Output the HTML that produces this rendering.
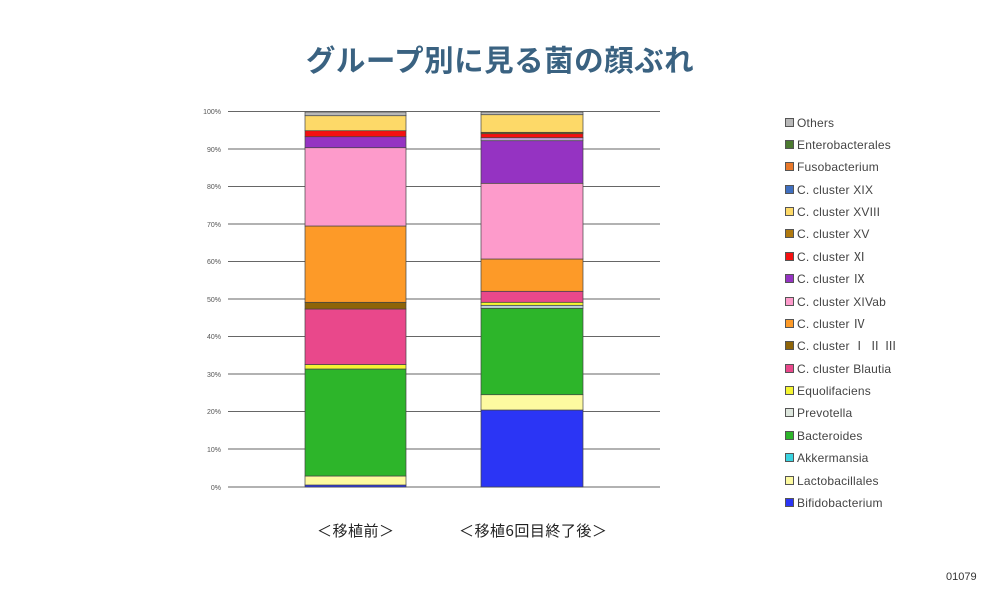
<!DOCTYPE html>
<html><head><meta charset="utf-8"><style>
body{margin:0;width:1000px;height:600px;background:#fff;position:relative;overflow:hidden;font-family:"Liberation Sans","Noto Sans CJK JP",sans-serif}
.t{position:absolute;left:0;width:1000px;top:38px;text-align:center;font-size:29.5px;font-weight:bold;color:#3a6281;font-family:"Noto Sans CJK JP",sans-serif;letter-spacing:0.5px}
.lg{position:absolute;left:785px;font-size:12px;color:#444;line-height:14px;letter-spacing:0.2px}
.lg i{display:inline-block;width:7px;height:7px;border:1px solid #555;margin-right:3px;vertical-align:0px}
.xl{position:absolute;top:520px;font-size:15px;color:#222;font-family:"Noto Sans CJK JP",sans-serif;letter-spacing:0.5px}
</style></head><body>
<div class="t">グループ別に見る菌の顔ぶれ</div>
<svg width="1000" height="600" style="position:absolute;left:0;top:0">
<g stroke="#666" stroke-width="1">
<line x1="228" x2="660" y1="111.5" y2="111.5"/><line x1="228" x2="660" y1="149" y2="149"/><line x1="228" x2="660" y1="186.5" y2="186.5"/><line x1="228" x2="660" y1="224" y2="224"/><line x1="228" x2="660" y1="261.5" y2="261.5"/><line x1="228" x2="660" y1="299" y2="299"/><line x1="228" x2="660" y1="336.5" y2="336.5"/><line x1="228" x2="660" y1="374" y2="374"/><line x1="228" x2="660" y1="411.5" y2="411.5"/><line x1="228" x2="660" y1="449" y2="449"/><line x1="228" x2="660" y1="487" y2="487"/>
</g>
<g font-size="7" fill="#555" text-anchor="end" font-family="Liberation Sans">
<text x="221" y="114">100%</text><text x="221" y="152">90%</text><text x="221" y="189">80%</text><text x="221" y="227">70%</text><text x="221" y="264">60%</text><text x="221" y="302">50%</text><text x="221" y="339">40%</text><text x="221" y="377">30%</text><text x="221" y="414">20%</text><text x="221" y="452">10%</text><text x="221" y="490">0%</text>
</g>
<g stroke="#444" stroke-width="0.7">
<rect x="305" y="485" width="101" height="2" fill="#2b35f5"/>
<rect x="305" y="476" width="101" height="9" fill="#fdfaa0"/>
<rect x="305" y="369" width="101" height="107" fill="#2db52a"/>
<rect x="305" y="364.5" width="101" height="4.5" fill="#f5f532"/>
<rect x="305" y="309" width="101" height="55.5" fill="#e9488b"/>
<rect x="305" y="302.3" width="101" height="6.7" fill="#8e6408"/>
<rect x="305" y="226" width="101" height="76.3" fill="#fd9a28"/>
<rect x="305" y="147.7" width="101" height="78.3" fill="#fd9bcb"/>
<rect x="305" y="136.7" width="101" height="11" fill="#9533c2"/>
<rect x="305" y="130.7" width="101" height="6" fill="#f51010"/>
<rect x="305" y="115.7" width="101" height="15" fill="#fdd968"/>
<rect x="305" y="112" width="101" height="3.7" fill="#b8b8b8"/>

<rect x="481" y="410" width="102" height="77" fill="#2b35f5"/>
<rect x="481" y="394.7" width="102" height="15.3" fill="#fdfaa0"/>
<rect x="481" y="308.3" width="102" height="86.4" fill="#2db52a"/>
<rect x="481" y="305.3" width="102" height="3" fill="#b9d0d8"/>
<rect x="481" y="302.3" width="102" height="3" fill="#f5f532"/>
<rect x="481" y="291.3" width="102" height="11" fill="#e9488b"/>
<rect x="481" y="259" width="102" height="32.3" fill="#fd9a28"/>
<rect x="481" y="183.3" width="102" height="75.7" fill="#fd9bcb"/>
<rect x="481" y="140.7" width="102" height="42.6" fill="#9533c2"/>
<rect x="481" y="137.7" width="102" height="3" fill="#c49ad8"/>
<rect x="481" y="133.7" width="102" height="4" fill="#f51010"/>
<rect x="481" y="132.3" width="102" height="1.4" fill="#8e6408"/>
<rect x="481" y="114.7" width="102" height="17.6" fill="#fdd968"/>
<rect x="481" y="112" width="102" height="2.7" fill="#b8b8b8"/>
</g>
</svg>
<div class="lg" style="top:116px"><i style="background:#b8b8b8"></i>Others</div>
<div class="lg" style="top:138px"><i style="background:#4c7a30"></i>Enterobacterales</div>
<div class="lg" style="top:160px"><i style="background:#e8782a"></i>Fusobacterium</div>
<div class="lg" style="top:183px"><i style="background:#3f6fc0"></i>C. cluster XIX</div>
<div class="lg" style="top:205px"><i style="background:#fdd968"></i>C. cluster XVIII</div>
<div class="lg" style="top:227px"><i style="background:#b0790e"></i>C. cluster XV</div>
<div class="lg" style="top:250px"><i style="background:#f51010"></i>C. cluster Ⅺ</div>
<div class="lg" style="top:272px"><i style="background:#9533c2"></i>C. cluster Ⅸ</div>
<div class="lg" style="top:295px"><i style="background:#fd9bcb"></i>C. cluster XIVab</div>
<div class="lg" style="top:317px"><i style="background:#fd9a28"></i>C. cluster Ⅳ</div>
<div class="lg" style="top:339px"><i style="background:#8e6408"></i>C. cluster Ⅰ Ⅱ Ⅲ</div>
<div class="lg" style="top:362px"><i style="background:#e9488b"></i>C. cluster Blautia</div>
<div class="lg" style="top:384px"><i style="background:#f5f532"></i>Equolifaciens</div>
<div class="lg" style="top:406px"><i style="background:#dde6dd"></i>Prevotella</div>
<div class="lg" style="top:429px"><i style="background:#2db52a"></i>Bacteroides</div>
<div class="lg" style="top:451px"><i style="background:#3ad3e0"></i>Akkermansia</div>
<div class="lg" style="top:474px"><i style="background:#fdfaa0"></i>Lactobacillales</div>
<div class="lg" style="top:496px"><i style="background:#2b35f5"></i>Bifidobacterium</div>
<div class="xl" style="left:317px">＜移植前＞</div>
<div class="xl" style="left:459px">＜移植6回目終了後＞</div>
<div style="position:absolute;left:946px;top:571px;font-size:11px;color:#333">01079</div>
</body></html>
